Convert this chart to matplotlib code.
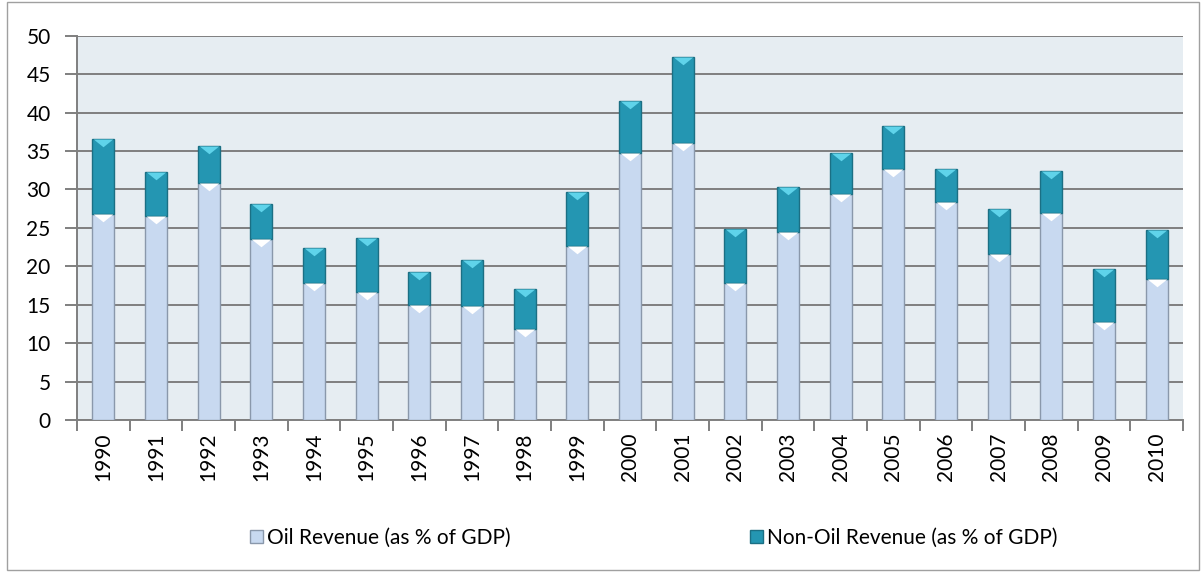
import numpy as np
import matplotlib.pyplot as plt
from matplotlib.patches import Rectangle

# Data
years = [str(y) for y in range(1990, 2011)]
oil = [26.8, 26.5, 30.8, 23.6, 17.8, 16.7, 15.0, 14.8, 11.8, 22.7, 34.7,
       36.0, 17.8, 24.4, 29.4, 32.7, 28.4, 21.6, 26.9, 12.8, 18.3]
total = [36.5, 32.3, 35.6, 28.1, 22.4, 23.7, 19.3, 20.8, 17.1, 29.6, 41.5,
         47.2, 24.9, 30.3, 34.7, 38.3, 32.6, 27.5, 32.4, 19.6, 24.7]
non_oil = [t - o for t, o in zip(total, oil)]

plt.rcParams['font.family'] = ['Lato', 'DejaVu Sans']

fig = plt.figure(figsize=(12.04, 5.72), dpi=100)
ax = fig.add_axes([0.064, 0.2657, 0.9185, 0.672])

x = np.arange(len(years))
w = 0.42
ax.bar(x, oil, w, color='#c8d9f0', edgecolor='#8a98ab', linewidth=1,
       label='Oil Revenue (as % of GDP)', zorder=3)
ax.bar(x, non_oil, w, bottom=oil, color='#2496b2', edgecolor='#1b6f84',
       linewidth=1, label='Non-Oil Revenue (as % of GDP)', zorder=3)

# bevel highlights: small chevrons at the top of each segment
chevron = [(-1, 0), (1, 0), (0, -0.8), (-1, 0)]
ax.plot(x, oil, linestyle='none', marker=chevron, markersize=14,
        color='white', markeredgewidth=0, zorder=4)
ax.plot(x, total, linestyle='none', marker=chevron, markersize=14,
        color='#5fd3ea', markeredgewidth=0, zorder=4)

ax.set_facecolor('#e6edf2')
ax.set_ylim(0, 50)
ax.set_xlim(-0.5, len(years) - 0.5)
ax.set_yticks(range(0, 51, 5))
ax.yaxis.grid(True, color='#7f7f7f', linewidth=1.4, zorder=0)
ax.set_axisbelow(True)

ax.set_xticks(x)
ax.set_xticklabels(years, rotation=90, fontsize=15)
ax.tick_params(axis='x', length=0, pad=9)
ax.set_xticks(np.arange(-0.5, len(years)), minor=True)
ax.tick_params(axis='x', which='minor', length=8, color='#7f7f7f', width=1.4)
ax.tick_params(axis='y', labelsize=15, length=9, color='#7f7f7f', width=1.4, pad=10)

for side in ['top', 'right']:
    ax.spines[side].set_visible(False)
ax.spines['left'].set_color('#7f7f7f')
ax.spines['bottom'].set_color('#7f7f7f')
ax.spines['left'].set_linewidth(1.4)
ax.spines['bottom'].set_linewidth(1.4)

fig.legend(handles=ax.containers, loc='center', bbox_to_anchor=(0.543, 0.06),
           ncol=2, frameon=False, fontsize=15, handlelength=0.6, handleheight=0.6,
           handletextpad=0.2, columnspacing=11.5)

# outer chart border
fig.patches.append(Rectangle((0.006, 0.004), 0.99, 0.992, transform=fig.transFigure,
                             fill=False, edgecolor='#a0a0a0', linewidth=1))

plt.savefig('out.png', dpi=100)
